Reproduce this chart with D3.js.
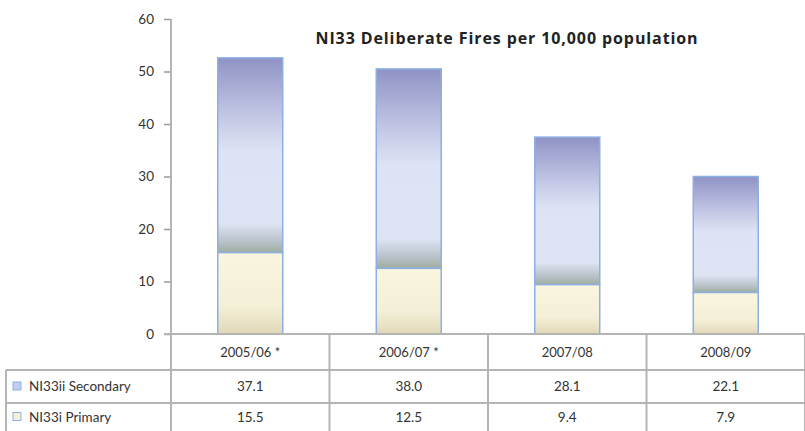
<!DOCTYPE html>
<html>
<head>
<meta charset="utf-8">
<script src="https://cdn.jsdelivr.net/npm/d3@7"></script>
<style>
  body { margin: 0; background: #fff; }
  svg { display: block; font-family: Lato, "Open Sans", sans-serif; }
</style>
</head>
<body>
<svg id="chart" width="805" height="431"></svg>
<script>
// data
const categories = ['2005/06 *', '2006/07 *', '2007/08', '2008/09'];
const secondary = [37.1, 38.0, 28.1, 22.1];
const primary = [15.5, 12.5, 9.4, 7.9];
const seriesNames = ['NI33ii Secondary', 'NI33i Primary'];
const yTicks = [0, 10, 20, 30, 40, 50, 60];
const title = 'NI33 Deliberate Fires per 10,000 population';

const svg = d3.select('#chart');
const W = 805, H = 431;

const plotLeft = 171, plotRight = 805, plotTop = 19, plotBottom = 334;
const rowLines = [334, 370, 403, 437];
const tableLeft = 6;

const x = d3.scaleBand()
  .domain(categories)
  .range([plotLeft, plotRight]);

const y = d3.scaleLinear()
  .domain([0, 60])
  .range([plotBottom, plotTop]);

const barW = x.bandwidth() * 0.41;

// gradients
const defs = svg.append('defs');
const gSec = defs.append('linearGradient').attr('id', 'gSec')
  .attr('x1', 0).attr('y1', 0).attr('x2', 0).attr('y2', 1);
[[0, '#8f93c5'], [0.3, '#c3c7e5'], [0.48, '#dde3f4'], [0.85, '#dee4f4'], [0.95, '#b5bfc5'], [1, '#9fad9b']]
  .forEach(s => gSec.append('stop').attr('offset', s[0]).attr('stop-color', s[1]));
const gPri = defs.append('linearGradient').attr('id', 'gPri')
  .attr('x1', 0).attr('y1', 0).attr('x2', 0).attr('y2', 1);
[[0, '#faf5de'], [0.65, '#f4f0d8'], [1, '#e1d8b8']]
  .forEach(s => gPri.append('stop').attr('offset', s[0]).attr('stop-color', s[1]));

// title
svg.append('text')
  .attr('x', 507)
  .attr('y', 44)
  .attr('text-anchor', 'middle')
  .attr('font-family', '"Open Sans", sans-serif')
  .attr('font-size', 16)
  .attr('font-weight', 'bold')
  .attr('letter-spacing', 0.9)
  .attr('fill', '#222')
  .text(title);

// y axis
const yAxis = svg.append('g')
  .attr('transform', `translate(${plotLeft},0)`)
  .call(d3.axisLeft(y).tickValues(yTicks).tickSize(7).tickPadding(10).tickFormat(d3.format('d')));
yAxis.select('.domain').remove();
yAxis.selectAll('.tick line').attr('stroke', '#999').attr('stroke-width', 1.5);
yAxis.selectAll('.tick text').attr('font-size', 13.5).attr('fill', '#333').attr('font-family', 'Lato, sans-serif');

// stacked bars
const bars = svg.append('g');
categories.forEach((c, i) => {
  const bx = x(c) + (x.bandwidth() - barW) / 2;
  bars.append('rect')
    .attr('x', bx)
    .attr('y', y(primary[i] + secondary[i]))
    .attr('width', barW)
    .attr('height', y(primary[i]) - y(primary[i] + secondary[i]))
    .attr('fill', 'url(#gSec)')
    .attr('stroke', '#8db0e4')
    .attr('stroke-width', 1.5);
  bars.append('rect')
    .attr('x', bx)
    .attr('y', y(primary[i]))
    .attr('width', barW)
    .attr('height', y(0) - y(primary[i]))
    .attr('fill', 'url(#gPri)')
    .attr('stroke', '#8db0e4')
    .attr('stroke-width', 1.5);
});

// data table grid
const grid = svg.append('g').attr('stroke', '#b4b4b4').attr('stroke-width', 2);
grid.append('line').attr('x1', plotLeft - 7).attr('x2', W).attr('y1', rowLines[0]).attr('y2', rowLines[0]);
rowLines.slice(1).forEach(ry => {
  grid.append('line').attr('x1', tableLeft).attr('x2', W).attr('y1', ry).attr('y2', ry);
});
grid.append('line').attr('x1', plotLeft).attr('x2', plotLeft).attr('y1', plotTop).attr('y2', H);
grid.append('line').attr('x1', tableLeft).attr('x2', tableLeft).attr('y1', rowLines[1]).attr('y2', H);
categories.forEach(c => {
  const gx = x(c) + x.bandwidth();
  grid.append('line').attr('x1', gx).attr('x2', gx).attr('y1', rowLines[0]).attr('y2', H);
});

// header labels
svg.append('g').selectAll('text')
  .data(categories)
  .enter()
  .append('text')
  .attr('x', d => x(d) + x.bandwidth() / 2)
  .attr('y', 357)
  .attr('text-anchor', 'middle')
  .attr('font-size', 13)
  .attr('fill', '#333')
  .text(d => d);

// rows
const rows = [secondary, primary];
const keyFill = ['#c5cdec', '#f6f1d6'];
rows.forEach((vals, r) => {
  const cy = (rowLines[r + 1] + rowLines[r + 2]) / 2 - (r === 1 ? 3 : 0);
  svg.append('rect')
    .attr('x', 13).attr('y', cy - 4.5)
    .attr('width', 8).attr('height', 8)
    .attr('fill', keyFill[r])
    .attr('stroke', '#8db0e4').attr('stroke-width', 1);
  svg.append('text')
    .attr('x', 29).attr('y', cy + 4.5)
    .attr('font-size', 13.5)
    .attr('fill', '#333')
    .text(seriesNames[r]);
  svg.append('g').selectAll('text')
    .data(vals)
    .enter()
    .append('text')
    .attr('x', (d, i) => x(categories[i]) + x.bandwidth() / 2)
    .attr('y', cy + 4.5)
    .attr('text-anchor', 'middle')
    .attr('font-size', 13.5)
    .attr('fill', '#333')
    .text(d => d.toFixed(1));
});
</script>
</body>
</html>
